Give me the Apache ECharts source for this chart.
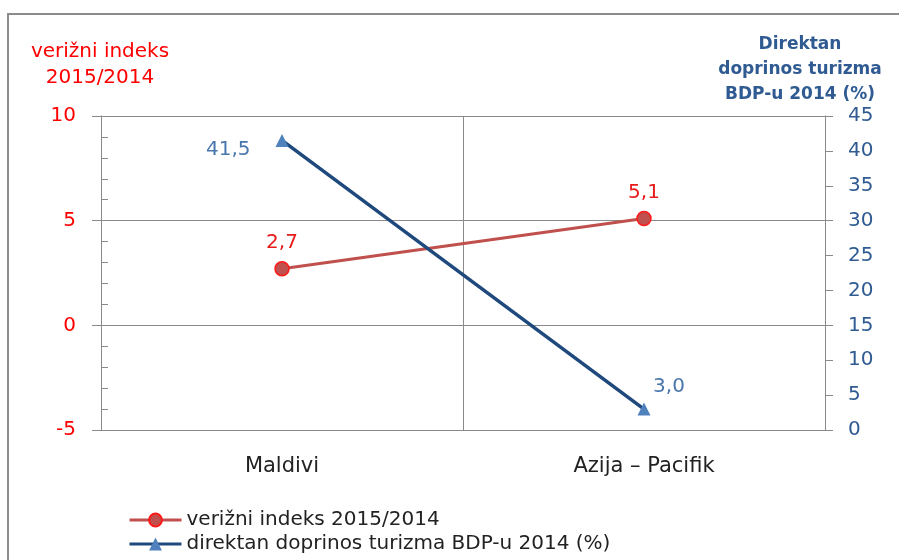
<!DOCTYPE html>
<html>
<head>
<meta charset="utf-8">
<script src="https://cdn.jsdelivr.net/npm/echarts@6/dist/echarts.min.js"></script>
<style>
html,body{margin:0;padding:0;background:#fff;}
#chart{width:899px;height:560px;}
</style>
</head>
<body>
<div id="chart"></div>
<script>
const categories = ['Maldivi', 'Azija – Pacifik'];
const indexSeriesName = 'verižni indeks 2015/2014';
const shareSeriesName = 'direktan doprinos turizma BDP-u 2014 (%)';
const indexValues = [2.7, 5.1];
const shareValues = [41.5, 3.0];
const leftAxisTitle = 'verižni indeks\n2015/2014';
const rightAxisTitle = 'Direktan\ndoprinos turizma\nBDP-u 2014 (%)';

const FONT = '"DejaVu Sans", sans-serif';
const GRID = '#8a8a8a';
const fmt = v => v.toFixed(1).replace('.', ',');

const legendText = { fontSize: 20, color: '#222', fontFamily: FONT };

const chart = echarts.init(document.getElementById('chart'));
chart.setOption({
  animation: false,
  backgroundColor: '#fff',
  textStyle: { fontFamily: FONT },
  grid: { left: 101, right: 74, top: 116, bottom: 130 },
  graphic: [
    { type: 'rect', shape: { x: 8, y: 14, width: 1000, height: 700 },
      style: { fill: 'none', stroke: '#8c8c8c', lineWidth: 2 }, silent: true },
    { type: 'text', x: 100, y: 39, style: { text: leftAxisTitle, fill: '#ff0000',
      font: '20px ' + FONT, textAlign: 'center', textVerticalAlign: 'top', lineHeight: 26 } },
    { type: 'text', x: 800, y: 32, style: { text: rightAxisTitle, fill: '#2f5b92',
      font: 'bold 17px ' + FONT, textAlign: 'center', textVerticalAlign: 'top', lineHeight: 25 } }
  ],
  legend: [
    { orient: 'vertical', left: 128, top: 510, padding: 0, itemWidth: 52, itemHeight: 16, itemGap: 5,
      lineStyle: { width: 3 }, textStyle: legendText, data: [indexSeriesName] },
    { orient: 'vertical', left: 128, top: 534, padding: 0, itemWidth: 52, itemHeight: 16, itemGap: 5,
      lineStyle: { width: 3 }, textStyle: legendText, data: [shareSeriesName] }
  ],
  xAxis: {
    type: 'category', data: categories, boundaryGap: true,
    axisLine: { lineStyle: { color: GRID, width: 1 } },
    axisTick: { show: false },
    splitLine: { show: true, lineStyle: { color: GRID, width: 1 } },
    axisLabel: { fontSize: 21, color: '#222', margin: 26, fontFamily: FONT }
  },
  yAxis: [
    { type: 'value', position: 'left', min: -5, max: 10, interval: 5,
      axisLine: { show: true, lineStyle: { color: GRID } },
      axisTick: { show: true, length: 9, lineStyle: { color: GRID } },
      splitLine: { show: true, lineStyle: { color: GRID, width: 1 } },
      axisLabel: { fontSize: 20, color: '#ff0000', margin: 25, fontFamily: FONT } },
    { type: 'value', position: 'right', min: 0, max: 45, interval: 5,
      axisLine: { show: true, lineStyle: { color: GRID } },
      axisTick: { show: true, length: 8, lineStyle: { color: GRID } },
      splitLine: { show: false },
      axisLabel: { fontSize: 20, color: '#2f5b92', margin: 23, fontFamily: FONT } },
    { type: 'value', position: 'left', min: -5, max: 10, interval: 1,
      axisLine: { show: false },
      axisTick: { show: true, inside: true, length: 7, lineStyle: { color: GRID } },
      splitLine: { show: false }, axisLabel: { show: false } }
  ],
  series: [
    { name: indexSeriesName, type: 'line', yAxisIndex: 0, data: indexValues,
      symbol: 'circle', symbolSize: 14,
      lineStyle: { color: '#c0504d', width: 3 },
      itemStyle: { color: '#c0504d', borderColor: '#ff1a1a', borderWidth: 1.5 },
      label: { show: true, position: 'top', distance: 8, fontSize: 20, color: '#e81a1a',
        fontFamily: FONT, formatter: p => fmt(p.value) },
      z: 3 },
    { name: shareSeriesName, type: 'line', yAxisIndex: 1,
      symbol: 'triangle', symbolSize: 13,
      lineStyle: { color: '#1f497d', width: 3.5 },
      itemStyle: { color: '#4f81bd' },
      label: { show: true, fontSize: 20, color: '#4a76ae', fontFamily: FONT,
        formatter: p => fmt(p.value) },
      data: [
        { value: shareValues[0], label: { position: 'left', distance: 25, offset: [0, 9] } },
        { value: shareValues[1], label: { position: 'top', distance: 6, offset: [25, 0] } }
      ],
      z: 4 }
  ]
});
</script>
</body>
</html>
